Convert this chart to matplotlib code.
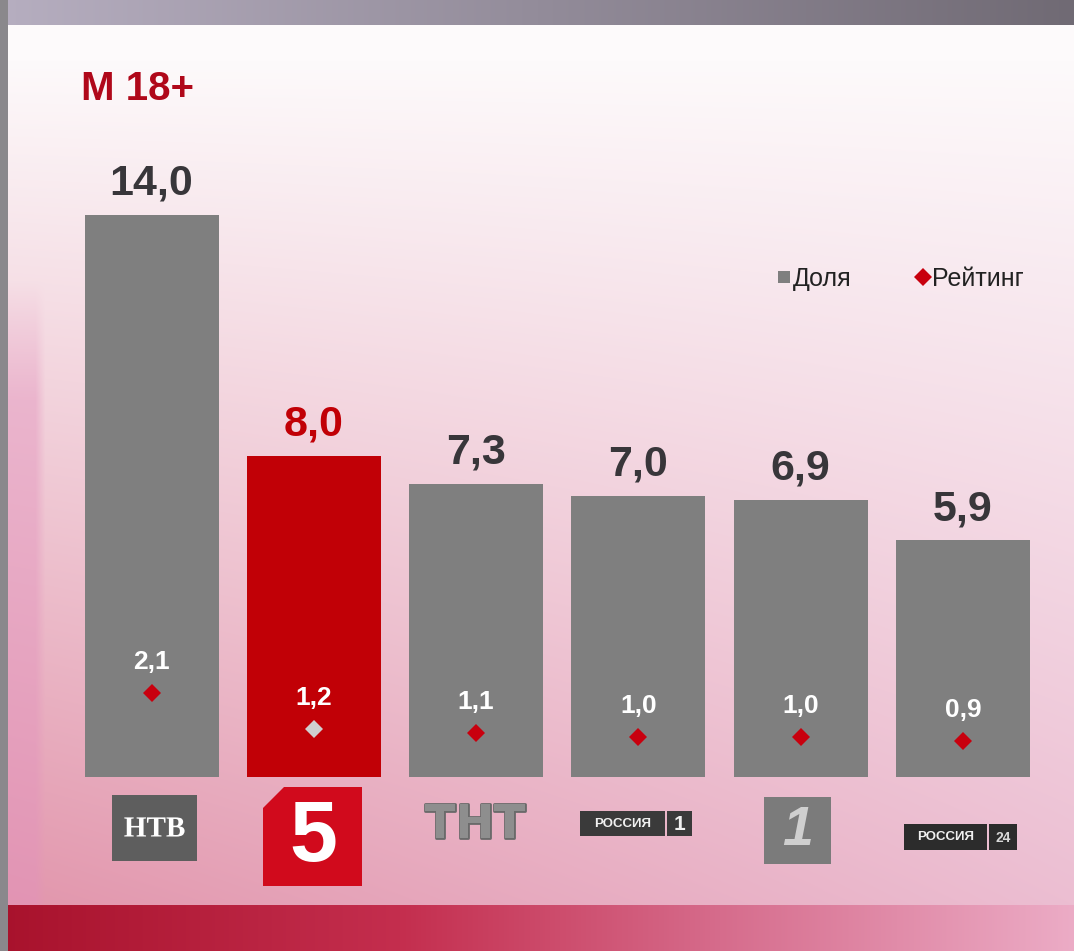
import numpy as np
import matplotlib
matplotlib.use("Agg")
import matplotlib.pyplot as plt
from matplotlib.patches import Rectangle, Polygon
from matplotlib.lines import Line2D
import matplotlib.patheffects as pe

# ---------------- data ----------------
channels = ["НТВ", "Пятый", "ТНТ", "Россия 1", "Первый", "Россия 24"]
share = [14.0, 8.0, 7.3, 7.0, 6.9, 5.9]          # Доля
rating = [2.1, 1.2, 1.1, 1.0, 1.0, 0.9]          # Рейтинг
share_labels = ["14,0", "8,0", "7,3", "7,0", "6,9", "5,9"]
rating_labels = ["2,1", "1,2", "1,1", "1,0", "1,0", "0,9"]
highlight = 1  # Пятый канал
title = "М 18+"
legend_labels = ["Доля", "Рейтинг"]

W, H = 1074, 951
fig = plt.figure(figsize=(W / 100, H / 100), dpi=100)

# ---------------- background (pixel axes) ----------------
bg = fig.add_axes([0, 0, 1, 1], zorder=0)
bg.set_xlim(0, W)
bg.set_ylim(H, 0)
bg.axis("off")

yy, xx = np.mgrid[0:H, 0:W].astype(float)
u = xx / W
t = np.clip((yy - 60) / (905 - 60), 0, 1) ** 1.0
top = np.array([253, 250, 251])
bot_l = np.array([226, 150, 172])
bot_r = np.array([236, 190, 210])
bot = bot_l[None, None, :] * (1 - u[..., None]) + bot_r[None, None, :] * u[..., None]
img = top[None, None, :] * (1 - t[..., None]) + bot * t[..., None]
# soft left magenta stripe
sw = np.clip((yy - 280) / 120, 0, 1) * np.clip((45 - xx) / 10, 0, 1) * (xx >= 8) * (yy < 905)
img = img * (1 - 0.45 * sw[..., None]) + np.array([226, 145, 188]) * (0.45 * sw[..., None])
# bottom strip
bs = yy >= 905
c0 = np.array([168, 18, 44]); c1 = np.array([196, 46, 78]); c2 = np.array([214, 108, 140]); c3 = np.array([236, 172, 198])
xs = np.array([0, 400, 720, W])
strip = np.stack([np.interp(xx[0], xs, [c0[k], c1[k], c2[k], c3[k]]) for k in range(3)], axis=-1)
img[bs] = np.broadcast_to(strip[None, :, :], img.shape)[bs]
# top frame
tf = yy < 25
topc = np.stack([np.interp(xx[0], [0, W], [a, b]) for a, b in zip([182, 174, 192], [112, 106, 116])], axis=-1)
img[tf] = np.broadcast_to(topc[None, :, :], img.shape)[tf]
# left frame
img[:, :8] = np.array([138, 136, 140])
bg.imshow(img.astype(np.uint8), extent=(0, W, H, 0), aspect="auto", interpolation="bilinear")

# title
bg.text(81, 100, title, color="#b0081a", fontsize=29, fontweight="bold",
        family="Liberation Sans", ha="left", va="baseline")

# ---------------- logos ----------------
# НТВ
bg.add_patch(Rectangle((112, 795), 85, 66, facecolor="#5e5e5e", edgecolor="none"))
bg.text(154.5, 829, "НТВ", color="white", fontsize=21, fontweight="bold",
        family="Liberation Serif", ha="center", va="center",
        path_effects=[pe.withStroke(linewidth=2, foreground="#5e5e5e")])
# 5
bg.add_patch(Polygon([(263, 808), (284, 787), (362, 787), (362, 886), (263, 886)],
                     closed=True, facecolor="#d10a1c", edgecolor="none"))
bg.text(313, 839, "5", color="white", fontsize=62, fontweight="bold",
        family="Liberation Sans", ha="center", va="center")
# ТНТ
bg.text(475, 825, "ТНТ", color="#8e8e8e", fontsize=33, fontweight="bold",
        family="DejaVu Sans", ha="center", va="center",
        path_effects=[pe.withStroke(linewidth=2, foreground="#6a6a6a")])
# Россия 1
bg.add_patch(Rectangle((580, 811), 85, 25, facecolor="#3a3a3a", edgecolor="none"))
bg.add_patch(Rectangle((667, 811), 25, 25, facecolor="#3a3a3a", edgecolor="none"))
bg.text(622.5, 824, "РОССИЯ", color="#f0f0f0", fontsize=9.5, fontweight="bold",
        family="Liberation Sans", ha="center", va="center")
bg.text(679.5, 824, "1", color="#f0f0f0", fontsize=15, fontweight="bold",
        family="Liberation Sans", ha="center", va="center")
# Первый
bg.add_patch(Rectangle((764, 797), 67, 67, facecolor="#7b7b7b", edgecolor="none"))
bg.text(798, 831, "1", color="#cfcfcf", fontsize=40, fontweight="bold", style="italic",
        family="Liberation Sans", ha="center", va="center")
# Россия 24
bg.add_patch(Rectangle((904, 824), 83, 26, facecolor="#2c2c2c", edgecolor="none"))
bg.add_patch(Rectangle((989, 824), 28, 26, facecolor="#2c2c2c", edgecolor="none"))
bg.text(945.5, 837.5, "РОССИЯ", color="#f0f0f0", fontsize=9.5, fontweight="bold",
        family="Liberation Sans", ha="center", va="center")
bg.text(1003, 837.5, "24", color="#d8d8d8", fontsize=10, fontweight="bold",
        family="Liberation Sans", ha="center", va="center")

# ---------------- bars ----------------
left_px, base_px, top_px = 8, 777, 25
ax = fig.add_axes([left_px / W, 1 - base_px / H, (W - left_px) / W, (base_px - top_px) / H], zorder=1)
ax.patch.set_alpha(0)
pitch = 162.3
x0 = 151.5
ax.set_xlim((left_px - x0) / pitch, (W - x0) / pitch)
ax.set_ylim(0, (base_px - top_px) / 40.14)
ax.axis("off")

x = np.arange(len(share))
colors = ["#c10006" if i == highlight else "#7f7f7f" for i in x]
ax.bar(x, share, width=134 / pitch, color=colors, edgecolor="none")

for i in x:
    ax.annotate(share_labels[i], (i, share[i]), xytext=(0, 14.5), textcoords="offset points",
                ha="center", va="baseline", fontsize=31, fontweight="bold",
                family="Liberation Sans",
                color="#c10006" if i == highlight else "#38363a")
    ax.plot(i, rating[i], marker="D", markersize=9.5, linestyle="none",
            color="#cfcfcf" if i == highlight else "#c8000e", markeredgewidth=0)
    ax.annotate(rating_labels[i], (i, rating[i]), xytext=(0, 17), textcoords="offset points",
                ha="center", va="baseline", fontsize=19, fontweight="bold",
                family="Liberation Sans", color="white")

handles = [Line2D([], [], marker="s", linestyle="none", markersize=9, color="#7f7f7f", markeredgewidth=0),
           Line2D([], [], marker="D", linestyle="none", markersize=9, color="#c8000e", markeredgewidth=0)]
leg = ax.legend(handles, legend_labels, ncol=2, frameon=False, loc="center left",
                bbox_to_anchor=(778 / W, 1 - 279 / H), bbox_transform=fig.transFigure,
                prop={"family": "Liberation Sans", "size": 18}, handlelength=0.5,
                handletextpad=0.1, columnspacing=2.6, borderpad=0, borderaxespad=0)
for txt in leg.get_texts():
    txt.set_color("#222222")

fig.savefig("out.png", dpi=100)
